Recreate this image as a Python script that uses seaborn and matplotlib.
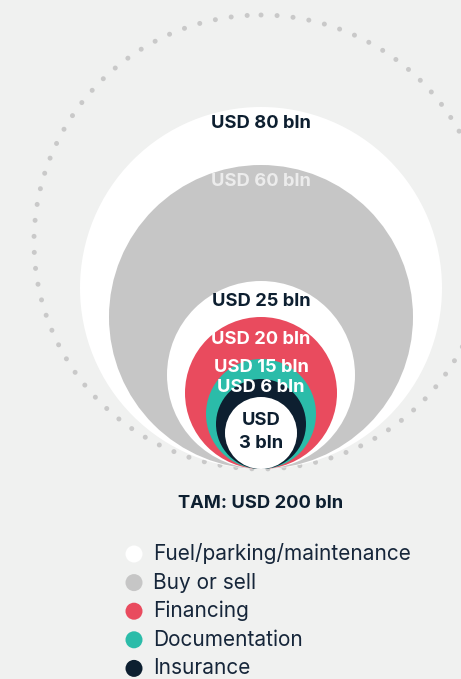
import matplotlib
matplotlib.use("Agg")
import matplotlib.pyplot as plt
import seaborn as sns
from matplotlib.patches import Circle

# -----------------------------
# data
# -----------------------------
segments = ["Fuel/parking/maintenance", "Buy or sell", "Financing", "Documentation", "Insurance"]
labels = ["USD 80 bln", "USD 60 bln", "USD 25 bln", "USD 20 bln", "USD 15 bln", "USD 6 bln", "USD\n3 bln"]
# radius of each nested circle (pixels in the original)
radii = [181, 152, 94, 76, 55, 45, 36]
tam_label = "TAM: USD 200 bln"
tam_radius = 227

# -----------------------------
# styles
# -----------------------------
BG = "#f0f1f0"
NAVY = "#0d1f30"
fills = ["#ffffff", "#c6c6c6", "#ffffff", "#e94b5e", "#2bbca9", NAVY, "#ffffff"]
text_cols = [NAVY, "#ececec", NAVY, "#ffffff", "#ffffff", "#ffffff", NAVY]
label_dy = [17, 17, 20, 22, 9, 8, None]   # offset from top of circle
legend_cols = ["#ffffff", "#c6c6c6", "#e94b5e", "#2bbca9", NAVY]

sns.set_theme(style="white")
plt.rcParams["font.family"] = ["Inter", "DejaVu Sans"]

W, H = 461, 679
fig = plt.figure(figsize=(W / 100, H / 100), dpi=100, facecolor=BG)
ax = fig.add_axes([0, 0, 1, 1])
ax.set_facecolor(BG)
ax.set_xlim(0, W)
ax.set_ylim(H, 0)
ax.axis("off")

cx, base = 261, 469

# dotted TAM circle
ax.add_patch(Circle((cx, base - tam_radius), tam_radius, fill=False, edgecolor="#c9c9c9",
                    linewidth=3.6, linestyle=(0, (0.01, 3.2)), capstyle="round", zorder=1))

# nested circles, all touching at the bottom
for i, (r, c) in enumerate(zip(radii, fills)):
    ax.add_patch(Circle((cx, base - r), r, facecolor=c, edgecolor="none", zorder=2 + i))
    if label_dy[i] is None:
        ty = base - r - 1
    else:
        ty = base - 2 * r + label_dy[i]
    ax.text(cx, ty, labels[i], ha="center", va="center", fontsize=13.2, fontweight="bold",
            color=text_cols[i], zorder=20, linespacing=1.4)

ax.text(cx, 503, tam_label, ha="center", va="center", fontsize=13.2, fontweight="bold", color=NAVY)

# legend
for i, (name, c) in enumerate(zip(segments, legend_cols)):
    y = 554 + 28.6 * i
    ax.scatter([134], [y], s=150, color=c, edgecolor="none", zorder=5)
    ax.text(153, y, name, ha="left", va="center", fontsize=15, color="#16263a")

fig.savefig("out.png", dpi=100, facecolor=BG)
